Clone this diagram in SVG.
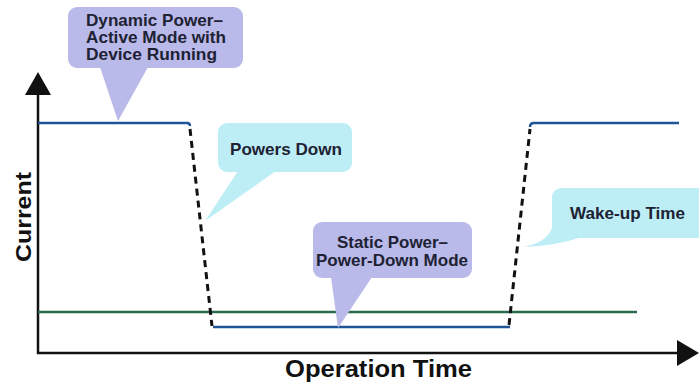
<svg xmlns="http://www.w3.org/2000/svg" width="699" height="387" viewBox="0 0 699 387">
<style>
.lbl{font-family:"Liberation Sans",Arial,sans-serif;font-weight:bold;fill:#1e2233;font-size:16.5px}
.ax{font-family:"Liberation Sans",Arial,sans-serif;font-weight:bold;fill:#111;}
.lav{fill:#b9b9ea}
.cy{fill:#bdeef6}
.blue{fill:none;stroke:#1f5596;stroke-width:2.5}
.dash{fill:none;stroke:#111;stroke-width:3;stroke-dasharray:7 5}
</style>
<rect width="699" height="387" fill="#ffffff"/>
<g id="connectors">
<line x1="38" y1="94" x2="38" y2="354" stroke="#111" stroke-width="2.5"/>
<polygon points="25,95 51,95 38,72" fill="#111"/>
<line x1="37" y1="353" x2="680" y2="353" stroke="#111" stroke-width="2.5"/>
<polygon points="677,340 677,366 699,353" fill="#111"/>
<line x1="38" y1="312" x2="637" y2="312" stroke="#2a6b4c" stroke-width="2.5"/>
<path class="blue" d="M38,123 H187 Q190,123 190,126"/>
<path class="dash" d="M190,129 L212,326"/>
<line class="blue" x1="213" y1="327" x2="510" y2="327"/>
<path class="dash" d="M509,325 L530,129"/>
<path class="blue" d="M530,127 Q530,123 534,123 H679" stroke="#1c3c7c"/>
</g>
<g id="callout-dynamic">
<rect class="lav" x="68" y="7" width="175" height="61" rx="9"/>
<polygon class="lav" points="100,67 118,121 148,67"/>
<text class="lbl" x="86" y="26" textLength="137" lengthAdjust="spacingAndGlyphs">Dynamic Power–</text>
<text class="lbl" x="86" y="43" textLength="140" lengthAdjust="spacingAndGlyphs">Active Mode with</text>
<text class="lbl" x="86" y="60" textLength="131" lengthAdjust="spacingAndGlyphs">Device Running</text>
</g>
<g id="callout-powers-down">
<rect class="cy" x="218" y="123" width="134" height="49" rx="9"/>
<polygon class="cy" points="238,171 205,221 276,171"/>
<text class="lbl" x="230" y="155" textLength="112" lengthAdjust="spacingAndGlyphs">Powers Down</text>
</g>
<g id="callout-static">
<rect class="lav" x="313" y="222" width="159" height="56" rx="9"/>
<polygon class="lav" points="331,277 338,328 372,277"/>
<text class="lbl" x="337" y="248" textLength="111" lengthAdjust="spacingAndGlyphs">Static Power–</text>
<text class="lbl" x="316" y="266" textLength="152" lengthAdjust="spacingAndGlyphs">Power-Down Mode</text>
</g>
<g id="callout-wakeup">
<rect class="cy" x="552" y="188" width="160" height="50" rx="9"/>
<path class="cy" d="M553,222 Q552,241 524,247 Q555,246 582,237 Z"/>
<text class="lbl" x="570" y="219" textLength="115" lengthAdjust="spacingAndGlyphs">Wake-up Time</text>
</g>
<g id="axis-labels">
<text class="ax" font-size="22" transform="translate(31,217) rotate(-90)" text-anchor="middle" textLength="90" lengthAdjust="spacingAndGlyphs">Current</text>
<text class="ax" font-size="24" x="285" y="377" textLength="187" lengthAdjust="spacingAndGlyphs">Operation Time</text>
</g>
</svg>
